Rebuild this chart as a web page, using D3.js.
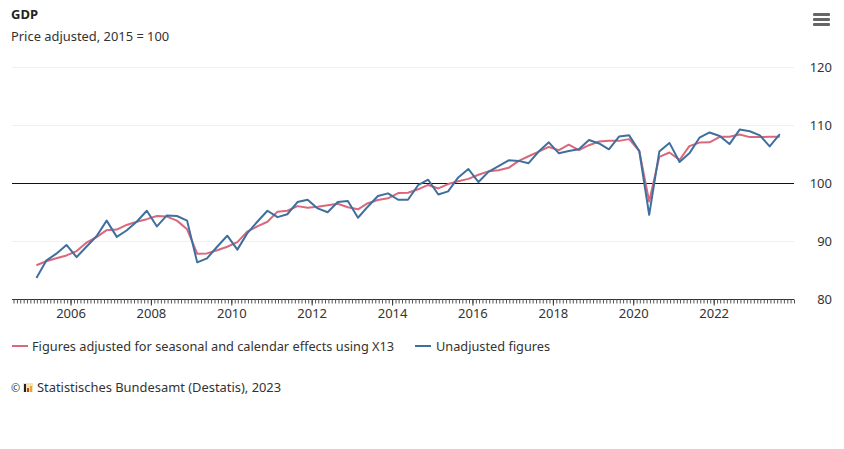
<!DOCTYPE html>
<html>
<head>
<meta charset="utf-8">
<script src="https://cdn.jsdelivr.net/npm/d3@7"></script>
<style>
  body { margin: 0; background: #fff; }
  text { font-family: "Noto Sans", sans-serif; fill: #333; }
</style>
</head>
<body>
<div id="chart"></div>
<script>
var svgWidth = 844;
var svgHeight = 449;

// quarters 2005 Q1 - 2023 Q3, plotted mid-quarter
var years = [2005, 2006, 2007, 2008, 2009, 2010, 2011, 2012, 2013, 2014, 2015, 2016, 2017, 2018, 2019, 2020, 2021, 2022, 2023];
var quarterMonths = [1, 4, 7, 10];

var adjusted = [
  85.9, 86.6, 87.1, 87.6,
  88.35, 89.8, 90.75, 91.95,
  92.05, 92.85, 93.4, 93.85,
  94.4, 94.3, 93.6, 92.1,
  87.9, 87.95, 88.5, 89.1,
  89.9, 91.7, 92.6, 93.4,
  95.15, 95.3, 96.1, 95.8,
  96.0, 96.25, 96.5, 95.9,
  95.55, 96.6, 97.15, 97.45,
  98.35, 98.4, 99.0, 99.75,
  99.15, 99.9, 100.4, 100.8,
  101.5, 102.1, 102.3, 102.7,
  103.9, 104.7, 105.5, 106.3,
  105.75, 106.7, 105.75, 106.6,
  107.25, 107.35, 107.35, 107.65,
  105.6, 96.9, 104.6, 105.35,
  104.05, 106.45, 107.05, 107.1,
  108.05, 108.05, 108.45, 108.0,
  108.0, 108.05, 108.05
];

var unadjusted = [
  83.7, 86.7, 87.9, 89.4,
  87.3, 89.1, 90.9, 93.6,
  90.8, 91.9, 93.4, 95.3,
  92.6, 94.5, 94.4, 93.6,
  86.4, 87.1, 89.1, 91.0,
  88.6, 91.4, 93.4, 95.3,
  94.2, 94.7, 96.8, 97.2,
  95.7, 95.05, 96.8, 97.0,
  94.1, 96.0, 97.85, 98.3,
  97.2, 97.2, 99.7, 100.65,
  98.1, 98.65, 101.05, 102.5,
  100.25, 102.0, 103.0, 104.0,
  103.9, 103.5, 105.5, 107.1,
  105.2, 105.6, 105.9, 107.5,
  106.9, 105.9, 108.1, 108.3,
  105.6, 94.6, 105.5, 107.0,
  103.7, 105.2, 107.9, 108.8,
  108.2, 106.8, 109.3, 109.0,
  108.3, 106.4, 108.5
];

var yTicks = [80, 90, 100, 110, 120];
var xLabelYears = [2006, 2008, 2010, 2012, 2014, 2016, 2018, 2020, 2022];
var seriesNames = ["Figures adjusted for seasonal and calendar effects using X13", "Unadjusted figures"];
var seriesColors = ["#d9687c", "#3f6f9e"];

// date for each value, a little after the middle of the quarter
var quarters = [];
years.forEach(function(y) {
  quarterMonths.forEach(function(m) {
    quarters.push(new Date(y, m, 25));
  });
});

var svg = d3.select("#chart")
  .append("svg")
  .attr("width", svgWidth)
  .attr("height", svgHeight)
  .style("display", "block");

var xScale = d3.scaleTime()
  .domain([new Date(2004, 6, 18), new Date(2024, 0, 1)])
  .range([12, 794]);

var yScale = d3.scaleLinear()
  .domain([80, 120])
  .range([299.5, 67.5]);

// grid
svg.append("g")
  .selectAll("line")
  .data(yTicks.filter(d => d > 80))
  .enter()
  .append("line")
  .attr("x1", 12)
  .attr("x2", 794)
  .attr("y1", d => yScale(d))
  .attr("y2", d => yScale(d))
  .attr("stroke", "#f0f0f0");

// y labels
svg.append("g")
  .selectAll("text")
  .data(yTicks)
  .enter()
  .append("text")
  .attr("x", 832)
  .attr("y", d => yScale(d) + 4.5)
  .attr("text-anchor", "end")
  .attr("font-size", 13)
  .text(d => d);

// x axis, monthly minor ticks and two-yearly labels
var minorAxis = d3.axisBottom(xScale)
  .ticks(d3.timeMonth.every(1))
  .tickSize(4)
  .tickFormat("");

svg.append("g")
  .attr("transform", "translate(0, 299.5)")
  .call(minorAxis)
  .call(g => g.select(".domain").attr("d", "M12,0H794").attr("stroke", "#333"))
  .call(g => g.selectAll("line").attr("stroke", "#555"));

var majorAxis = d3.axisBottom(xScale)
  .tickValues(xLabelYears.map(y => new Date(y, 0, 1)))
  .tickSize(6)
  .tickPadding(3)
  .tickFormat(d3.timeFormat("%Y"));

svg.append("g")
  .attr("transform", "translate(0, 299.5)")
  .call(majorAxis)
  .call(g => g.select(".domain").remove())
  .call(g => g.selectAll("line").attr("stroke", "#333"))
  .call(g => g.selectAll("text").attr("font-size", 13).attr("font-family", "Noto Sans").attr("fill", "#333"));

// reference line at 100
svg.append("line")
  .attr("x1", 12)
  .attr("x2", 794)
  .attr("y1", yScale(100))
  .attr("y2", yScale(100))
  .attr("stroke", "#111");

// series
var line = d3.line()
  .x((d, i) => xScale(quarters[i]))
  .y(d => yScale(d));

[adjusted, unadjusted].forEach(function(values, i) {
  svg.append("path")
    .attr("d", line(values))
    .attr("fill", "none")
    .attr("stroke", seriesColors[i])
    .attr("stroke-width", 2)
    .attr("stroke-linejoin", "round");
});

// title
svg.append("text")
  .attr("x", 11).attr("y", 19)
  .attr("font-size", 13).attr("font-weight", 700)
  .style("fill", "#222")
  .text("GDP");

svg.append("text")
  .attr("x", 11).attr("y", 41)
  .attr("font-size", 12.9)
  .text("Price adjusted, 2015 = 100");

// menu icon
svg.append("g")
  .selectAll("rect")
  .data([13, 18, 23])
  .enter()
  .append("rect")
  .attr("x", 813).attr("y", d => d)
  .attr("width", 17).attr("height", 3)
  .attr("rx", 1)
  .attr("fill", "#666");

// legend
var legendX = [12, 415];
seriesNames.forEach(function(name, i) {
  svg.append("line")
    .attr("x1", legendX[i]).attr("x2", legendX[i] + 16)
    .attr("y1", 346).attr("y2", 346)
    .attr("stroke", seriesColors[i])
    .attr("stroke-width", 2);
  svg.append("text")
    .attr("x", legendX[i] + (i ? 21 : 20)).attr("y", 351)
    .attr("font-size", 12.75)
    .text(name);
});

// credits
svg.append("text")
  .attr("x", 11).attr("y", 392)
  .attr("font-size", 11)
  .text("©");

// destatis logo
svg.append("rect")
  .attr("x", 23).attr("y", 383)
  .attr("width", 10).attr("height", 9)
  .attr("fill", "#f6e3b4");

var logoBars = [[24, 8, "#222"], [27, 4, "#c33"], [30, 6, "#e0a92e"]];
svg.append("g")
  .selectAll("rect.bar")
  .data(logoBars)
  .enter()
  .append("rect")
  .attr("class", "bar")
  .attr("x", d => d[0])
  .attr("y", d => 392 - d[1])
  .attr("width", 2)
  .attr("height", d => d[1])
  .attr("fill", d => d[2]);

svg.append("text")
  .attr("x", 37).attr("y", 392)
  .attr("font-size", 12.9)
  .text("Statistisches Bundesamt (Destatis), 2023");
</script>
</body>
</html>
